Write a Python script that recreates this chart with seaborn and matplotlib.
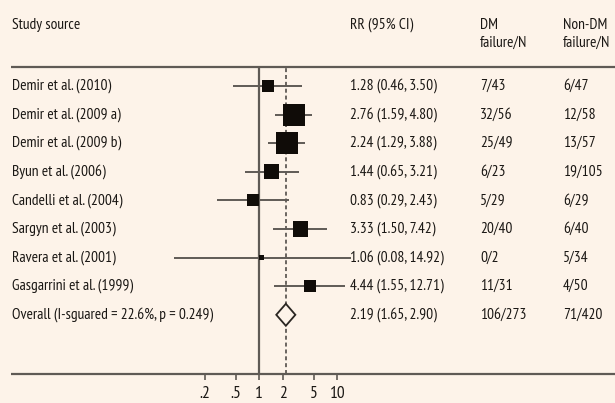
import numpy as np
import pandas as pd
import matplotlib
matplotlib.use("Agg")
import matplotlib.pyplot as plt
import seaborn as sns

# study data
studies = ["Demir et al. (2010)", "Demir et al. (2009 a)", "Demir et al. (2009 b)",
           "Byun et al. (2006)", "Candelli et al. (2004)", "Sargyn et al. (2003)",
           "Ravera et al. (2001)", "Gasgarrini et al. (1999)"]
rr = [1.28, 2.76, 2.24, 1.44, 0.83, 3.33, 1.06, 4.44]
ci_low = [0.46, 1.59, 1.29, 0.65, 0.29, 1.50, 0.08, 1.55]
ci_high = [3.50, 4.80, 3.88, 3.21, 2.43, 7.42, 14.92, 12.71]
weights = [7.7, 25.8, 25.8, 12.0, 7.7, 12.0, 1.3, 7.7]
dm_fail = ["7/43", "32/56", "25/49", "6/23", "5/29", "20/40", "0/2", "11/31"]
nondm_fail = ["6/47", "12/58", "13/57", "19/105", "6/29", "6/40", "5/34", "4/50"]

overall_label = "Overall (I-sguared = 22.6%, p = 0.249)"
overall_rr = 2.19
overall_low = 1.65
overall_high = 2.90
overall_dm = "106/273"
overall_nondm = "71/420"

tick_vals = [0.2, 0.5, 1, 2, 5, 10]
tick_labels = [".2", ".5", "1", "2", "5", "10"]

bg = "#fdf3e9"
line_col = "#5f5a55"
txt_col = "#1a1714"

sns.set_theme(style="white")
plt.rcParams["font.family"] = ["Ubuntu Condensed", "PT Sans Narrow", "Roboto Condensed",
                               "Archivo Narrow", "DejaVu Sans"]
fs = 11.2

W, H = 615, 403
fig = plt.figure(figsize=(W / 100, H / 100), dpi=100, facecolor=bg)

# background axes in pixel coordinates for the table text and rules
tab = fig.add_axes([0, 0, 1, 1])
tab.set_xlim(0, W)
tab.set_ylim(H, 0)
tab.axis("off")
tab.set_facecolor(bg)

row0, step = 86, 28.6
top_y, bot_y = 67, 374
tab.hlines([top_y, bot_y], 11, W, color=line_col, lw=1.6)

x_study, x_rr, x_dm, x_non = 12, 350, 480, 563
tab.text(x_study, 25, "Study source", fontsize=fs, color=txt_col, va="center")
tab.text(x_rr, 25, "RR (95% CI)", fontsize=fs, color=txt_col, va="center")
tab.text(x_dm, 25, "DM", fontsize=fs, color=txt_col, va="center")
tab.text(x_dm, 43, "failure/N", fontsize=fs, color=txt_col, va="center")
tab.text(x_non, 25, "Non-DM", fontsize=fs, color=txt_col, va="center")
tab.text(x_non, 43, "failure/N", fontsize=fs, color=txt_col, va="center")

df = pd.DataFrame({"study": studies, "rr": rr, "lo": ci_low, "hi": ci_high,
                   "w": weights, "dm": dm_fail, "non": nondm_fail})
df["row"] = np.arange(len(df))

for i, r in df.iterrows():
    y = row0 + step * r["row"]
    tab.text(x_study, y, r["study"], fontsize=fs, color=txt_col, va="center")
    tab.text(x_rr, y, f"{r['rr']:.2f} ({r['lo']:.2f}, {r['hi']:.2f})",
             fontsize=fs, color=txt_col, va="center")
    tab.text(x_dm, y, r["dm"], fontsize=fs, color=txt_col, va="center")
    tab.text(x_non, y, r["non"], fontsize=fs, color=txt_col, va="center")

n = len(df)
y_ov = row0 + step * n
tab.text(x_study, y_ov, overall_label, fontsize=fs, color=txt_col, va="center")
tab.text(x_rr, y_ov, f"{overall_rr:.2f} ({overall_low:.2f}, {overall_high:.2f})",
         fontsize=fs, color=txt_col, va="center")
tab.text(x_dm, y_ov, overall_dm, fontsize=fs, color=txt_col, va="center")
tab.text(x_non, y_ov, overall_nondm, fontsize=fs, color=txt_col, va="center")

# forest axes: log scale, x=1 at ~259px, 78px per decade
x_one, decade = 259.3, 78
left_px = x_one - 2 * decade
ax = fig.add_axes([left_px / W, (H - bot_y) / H, 4 * decade / W, (bot_y - top_y) / H])
ax.patch.set_alpha(0)
ax.set_xscale("log")
ax.set_xlim(0.01, 100)
ax.set_ylim((bot_y - row0) / step, (top_y - row0) / step)
for s in ax.spines.values():
    s.set_visible(False)

ax.axvline(1, color=line_col, lw=1.6, zorder=1)
ax.axvline(overall_rr, color=line_col, lw=1.3, ls=(0, (2.2, 1.6)), zorder=1)

ax.hlines(df["row"], df["lo"], df["hi"], color=line_col, lw=1.4, zorder=2)
s_min, s_max = (5 * 0.72) ** 2, (22 * 0.72) ** 2
sns.scatterplot(data=df, x="rr", y="row", size="w", sizes=(s_min, s_max),
                marker="s", color="#100c08", linewidth=0, legend=False,
                ax=ax, zorder=3)

dh = 11 / step
ax.fill([overall_low, overall_rr, overall_high, overall_rr],
        [n, n - dh, n, n + dh], facecolor=bg, edgecolor="#2a2622", lw=1.3, zorder=3)

ax.set_xticks(tick_vals)
ax.set_xticklabels(tick_labels)
ax.minorticks_off()
ax.set_yticks([])
ax.set_xlabel("")
ax.set_ylabel("")
ax.tick_params(axis="x", bottom=True, direction="out", length=4.5, width=1.2,
               color=line_col, labelsize=12.5, labelcolor=txt_col, pad=4)

fig.savefig("out.png", dpi=100, facecolor=bg)
